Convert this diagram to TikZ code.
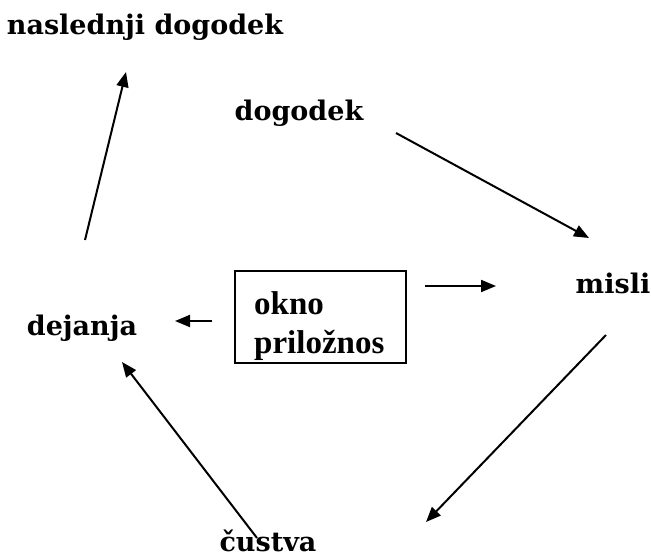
\documentclass[tikz,border=0pt]{standalone}
\usepackage{fontspec}
\setmainfont{DejaVu Serif}
\newfontfamily\boxfont{Liberation Serif}
\usetikzlibrary{arrows.meta}
\begin{document}
\begin{tikzpicture}[x=1pt,y=-1pt,
  lbl/.style={font=\fontsize{27}{30}\selectfont\bfseries, inner sep=0pt},
  arr/.style={line width=2pt, -{Triangle[length=15pt,width=12pt]}}]
\useasboundingbox (0,0) rectangle (651,557);
\node[lbl] (nasl) at (145,27) {naslednji dogodek};
\node[lbl] (dog) at (299,113) {dogodek};
\node[lbl] (misli) at (613,283) {misli};
\node[lbl] (dej) at (82,328) {dejanja};
\node[lbl] (cus) at (268,541) {čustva};
\node[draw, line width=1.6pt, minimum width=171pt, minimum height=92pt] (okno) at (320.5,317) {};
\node[font=\boxfont\fontsize{33}{37}\selectfont\bfseries, anchor=north west, inner sep=0pt, align=left] (oknotxt) at (254,291) {okno\\[2pt]priložnos};
\coordinate (a1s) at (85,240); \coordinate (a1e) at (126,72);
\coordinate (a2s) at (396,133); \coordinate (a2e) at (589,238);
\coordinate (a3s) at (425,286); \coordinate (a3e) at (496,286);
\coordinate (a4s) at (212,321); \coordinate (a4e) at (175,321);
\coordinate (a5s) at (606,335); \coordinate (a5e) at (426,522);
\coordinate (a6s) at (257,538); \coordinate (a6e) at (122,362);
\draw[arr] (a1s) -- (a1e);
\draw[arr] (a2s) -- (a2e);
\draw[arr] (a3s) -- (a3e);
\draw[arr] (a4s) -- (a4e);
\draw[arr] (a5s) -- (a5e);
\draw[arr] (a6s) -- (a6e);
\end{tikzpicture}
\end{document}
